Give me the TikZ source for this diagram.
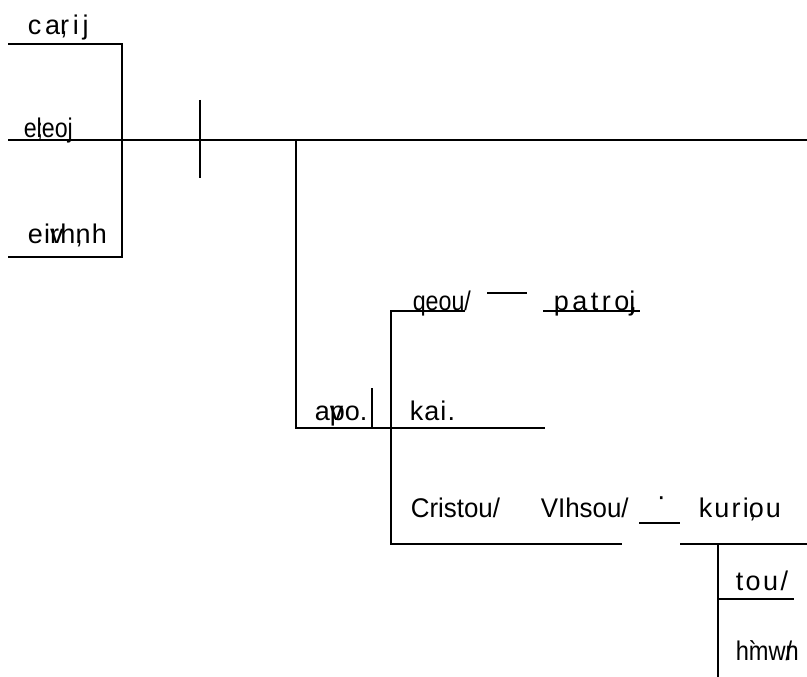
\documentclass[tikz,border=0pt]{standalone}
\usepackage{fontspec}
\setmainfont{Liberation Sans}
\newfontfamily\condA[FakeStretch=0.86]{Liberation Sans}
\newfontfamily\condB[FakeStretch=0.96]{Liberation Sans}
\newfontfamily\condC[FakeStretch=0.875]{Liberation Sans}
\newcommand{\zw}[1]{\rlap{#1}}
\newcommand{\ls}[1]{\addfontfeatures{LetterSpace=#1}}
\begin{document}
\begin{tikzpicture}[x=1pt,y=-1pt,line width=1.6pt,
  word/.style={anchor=base west,inner sep=0pt,font=\fontsize{27}{32}\selectfont}]
\useasboundingbox (0,0) rectangle (807,677);
% coordinates
\coordinate (tl) at (8,44);  \coordinate (tr) at (122,44);
\coordinate (ml) at (8,140); \coordinate (mr) at (807,140);
\coordinate (bl) at (8,257); \coordinate (br) at (122,257);
\coordinate (dvT) at (200,100); \coordinate (dvB) at (200,178);
\coordinate (ppT) at (296,140); \coordinate (ppB) at (296,428);
\coordinate (ppR) at (545,428);
\coordinate (apT) at (372,388); \coordinate (apB) at (372,428);
\coordinate (cjT) at (391,311); \coordinate (cjB) at (391,544);
\coordinate (qR) at (465,311);
\coordinate (dsL) at (487,293); \coordinate (dsR) at (527,293);
\coordinate (paL) at (543,311); \coordinate (paR) at (640,311);
\coordinate (chR) at (622,544);
\coordinate (ulL) at (639,523); \coordinate (ulR) at (680,523);
\coordinate (kuL) at (680,544); \coordinate (kuR) at (807,544);
\coordinate (kdT) at (718,544); \coordinate (kdB) at (718,677);
\coordinate (toR) at (794,599); \coordinate (toL) at (718,599);
% lines
\draw (tl) -- (tr) -- (br) -- (bl);
\draw (ml) -- (mr);
\draw (dvT) -- (dvB);
\draw (ppT) -- (ppB) -- (ppR);
\draw (apT) -- (apB);
\draw (qR) -- (cjT) -- (cjB) -- (chR);
\draw (dsL) -- (dsR);
\draw (paL) -- (paR);
\draw (ulL) -- (ulR);
\draw (kuL) -- (kuR);
\draw (kdT) -- (kdB);
\draw (toL) -- (toR);
% words
\node[word] (charis) at (27,35) {\ls{14}ca\zw{,}rij};
\node[word] (eleos) at (23,138) {\condA e\zw{;}leoj};
\node[word] (eirene) at (27,243) {\ls{5}ei\zw{v}rh\zw{,}nh};
\node[word] (theou) at (412,310) {\condA qeou/};
\node[word] (patros) at (553,310) {\ls{13}patro\zw{,}j};
\node[word] (apo) at (314,420) {a\zw{v}po.};
\node[word] (kai) at (409,420) {\ls{4}kai.};
\node[word] (christou) at (410,517) {\condB Cristou/};
\node[word] (iesou) at (540,517) {\condB VIhsou/};
\node[word] (dot) at (656,505) {·};
\node[word] (kuriou) at (698,517) {\ls{8}kuri\zw{,}ou};
\node[word] (tou) at (735,590) {\ls{9}tou/};
\node[word] (hemon) at (735,660) {\condC h\zw{`}mw\zw{/}n};
\end{tikzpicture}
\end{document}
